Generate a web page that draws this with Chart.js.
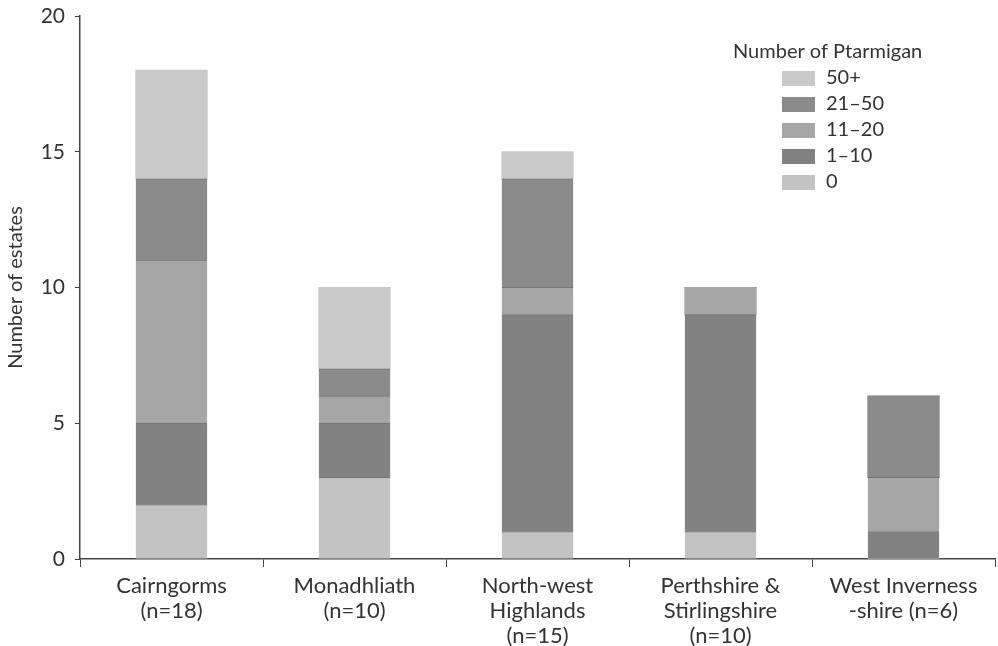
<!DOCTYPE html>
<html>
<head>
<meta charset="utf-8">
<script src="https://cdn.jsdelivr.net/npm/chart.js@4.4.0/dist/chart.umd.min.js"></script>
<style>
  html, body { margin: 0; padding: 0; background: #fff; }
  #wrap { width: 998px; height: 646px; }
</style>
</head>
<body>
<div id="wrap"><canvas id="chart" width="998" height="646"></canvas></div>
<script>
// Data
const regions = [
    ['Cairngorms', '(n=18)'],
    ['Monadhliath', '(n=10)'],
    ['North-west', 'Highlands', '(n=15)'],
    ['Perthshire &', 'Stirlingshire', '(n=10)'],
    ['West Inverness', '-shire (n=6)']
];
const groups = ['0', '1–10', '11–20', '21–50', '50+'];
const zero      = [2, 3, 1, 1, 0];
const oneTo10   = [3, 2, 8, 8, 1];
const elevenTo20 = [6, 1, 1, 1, 2];
const twentyOneTo50 = [3, 1, 4, 0, 3];
const fiftyPlus = [4, 3, 1, 0, 0];
const colours = ['#c3c3c3', '#828282', '#a6a6a6', '#8b8b8b', '#c9c9c9'];
const yTicks = [0, 5, 10, 15, 20];

const FONT = 'Lato, "Open Sans", sans-serif';

window.onload = drawChart();
function drawChart() {
    const series = [zero, oneTo10, elevenTo20, twentyOneTo50, fiftyPlus];

    // thin dividing line only where another segment sits on top
    function topLine(ctx) {
        const i = ctx.datasetIndex, j = ctx.dataIndex;
        const above = series.slice(i + 1).some(s => s[j] > 0);
        return { top: above ? 1 : 0, bottom: 0, left: 0, right: 0 };
    }

    const data = {
        labels: regions,
        datasets: series.map((vals, i) => ({
            label: groups[i],
            data: vals,
            backgroundColor: colours[i],
            borderColor: '#747474',
            borderWidth: topLine,
            borderSkipped: false,
            inflateAmount: 0.5,
            barPercentage: 0.39,
            categoryPercentage: 1.0
        }))
    };

    // legend drawn inside the plot, top right, highest group first
    const boxLegend = {
        id: 'boxLegend',
        afterDraw(chart) {
            const ctx = chart.ctx;
            ctx.save();
            ctx.fillStyle = '#333';
            ctx.font = '20px ' + FONT;
            ctx.textBaseline = 'middle';
            ctx.textAlign = 'left';
            ctx.fillText('Number of Ptarmigan', 733, 52);
            const sets = chart.data.datasets.slice().reverse();
            sets.forEach((ds, i) => {
                const y = 78 + i * 26;
                ctx.fillStyle = ds.backgroundColor;
                ctx.fillRect(782, y - 7, 33, 15);
                ctx.fillStyle = '#333';
                ctx.fillText(ds.label, 826, y);
            });
            ctx.restore();
        }
    };

    const config = {
        type: 'bar',
        data: data,
        options: {
            responsive: false,
            animation: false,
            layout: { padding: { top: 0, right: 3, left: 0, bottom: 0 } },
            plugins: {
                legend: { display: false },
                tooltip: { enabled: false }
            },
            scales: {
                x: {
                    stacked: true,
                    afterFit(axis) { axis.height = 87; },
                    border: { color: '#444', width: 1.5 },
                    grid: { offset: true, drawOnChartArea: false, drawTicks: true, tickLength: 8, color: '#444' },
                    ticks: { color: '#333', font: { family: FONT, size: 22, lineHeight: 1.14 }, padding: 6, maxRotation: 0 }
                },
                y: {
                    stacked: true,
                    min: 0,
                    max: 20,
                    afterFit(axis) { axis.width = 80; axis.paddingTop = 16; },
                    afterBuildTicks(axis) { axis.ticks = yTicks.map(v => ({ value: v })); },
                    border: { color: '#444', width: 1.5 },
                    grid: { drawOnChartArea: false, drawTicks: true, tickLength: 5, color: '#444' },
                    ticks: { color: '#333', font: { family: FONT, size: 21 }, padding: 10 },
                    title: { display: true, text: 'Number of estates', color: '#333', font: { family: FONT, size: 20 }, padding: 4 }
                }
            }
        },
        plugins: [boxLegend]
    };

    const chart = new Chart(document.getElementById('chart'), config);
}
</script>
</body>
</html>
